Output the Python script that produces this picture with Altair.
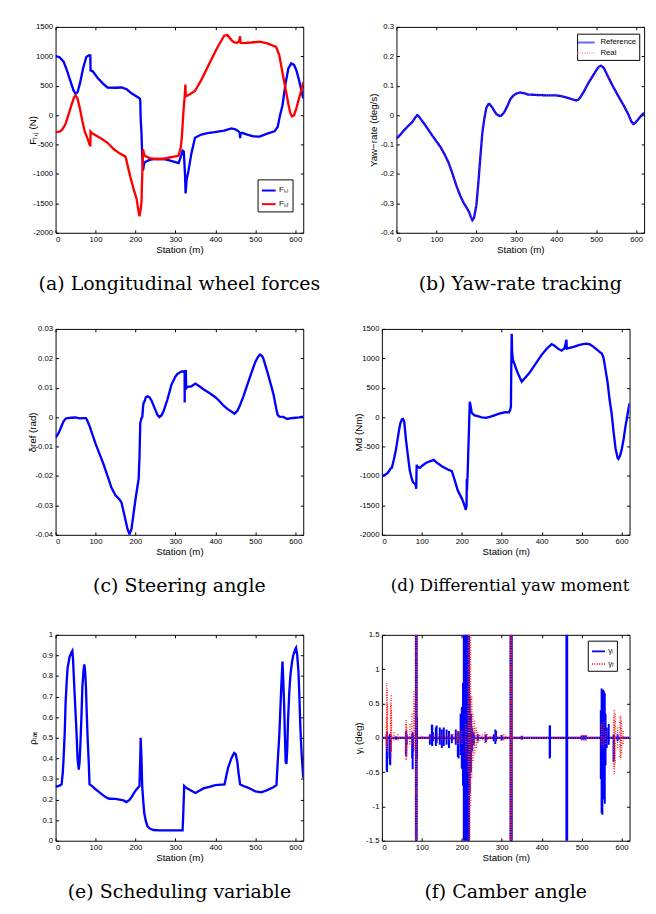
import altair as alt
import pandas as pd

# ---------------- (a) Longitudinal wheel forces ----------------
a_st_l = [0, 10, 20, 28, 38, 45, 50, 55, 61, 69, 77, 84, 87, 87.5, 93, 105, 118, 130, 150, 165, 178, 190, 200,
          207, 211, 212, 213, 215, 217, 219, 221, 223, 235, 250, 268, 285, 300, 308, 313, 318, 321, 324, 325.5,
          328, 333, 340, 349, 365, 380, 398, 422, 440, 450, 458, 461, 462, 463, 467, 480, 495, 511, 528, 548,
          556, 562, 568, 576, 583, 590, 597, 603, 609, 615, 620]
a_fll = [1005, 985, 910, 770, 560, 420, 360, 390, 540, 800, 990, 1020, 1015, 760, 745, 635, 540, 470, 465, 470,
         440, 370, 330, 300, 280, 250, -55, -300, -700, -940, -850, -800, -760, -745, -745, -770, -800, -815,
         -720, -605, -620, -1000, -1330, -1100, -935, -650, -385, -330, -305, -290, -265, -225, -240, -275,
         -300, -390, -310, -300, -330, -360, -365, -320, -275, -200, 0, 165, 550, 800, 880, 855, 760, 605, 430,
         285]
a_st_r = [0, 10, 16, 24, 32, 40, 46, 50, 55, 61, 67, 73, 81, 85, 87, 87.5, 90, 97, 115, 130, 146, 160, 175, 187,
          195, 203, 208, 210, 213, 215, 217, 219, 221, 223, 235, 250, 268, 285, 300, 308, 313, 316, 320, 323,
          325, 326, 335, 349, 365, 389, 405, 422, 430, 440, 446, 454, 459, 462, 463, 470, 490, 511, 530, 552,
          560, 568, 576, 583, 588, 592, 597, 603, 609, 615, 620]
a_flr = [-290, -280, -250, -165, 0, 180, 300, 335, 280, 110, -100, -275, -415, -500, -530, -280, -300, -330,
         -400, -470, -580, -650, -705, -1045, -1250, -1430, -1650, -1720, -1600, -1490, -1000, -580, -650,
         -690, -730, -745, -745, -720, -700, -690, -560, -385, 55, 300, 520, 320, 350, 410, 600, 935, 1150,
         1350, 1360, 1280, 1240, 1230, 1250, 1340, 1230, 1225, 1235, 1250, 1220, 1160, 1020, 720, 440, 180,
         28, -20, 0, 120, 275, 420, 560]
a_names = ["Fₗ,ₗ", "Fₗ,ᵣ"]

# ---------------- (b) Yaw-rate tracking ----------------
b_st = [0, 10, 20, 30, 40, 47, 52, 56, 60, 70, 80, 90, 100, 110, 120, 130, 140, 150, 160, 168, 175, 182, 186,
        190, 194, 200, 205, 210, 215, 220, 225, 230, 233, 240, 245, 250, 258, 262, 270, 278, 285, 292, 300,
        310, 320, 330, 345, 360, 380, 400, 410, 420, 430, 440, 450, 455, 460, 470, 480, 490, 500, 507, 512,
        517, 520, 530, 540, 550, 560, 570, 580, 588, 593, 598, 605, 612, 620]
b_ref = [-0.08, -0.066, -0.05, -0.036, -0.023, -0.008, 0.0, -0.004, -0.012, -0.03, -0.05, -0.07, -0.089,
         -0.108, -0.132, -0.16, -0.198, -0.24, -0.275, -0.298, -0.313, -0.33, -0.345, -0.357, -0.35, -0.307,
         -0.23, -0.143, -0.06, -0.012, 0.025, 0.037, 0.038, 0.026, 0.014, 0.004, -0.003, -0.002, 0.01, 0.032,
         0.054, 0.066, 0.073, 0.077, 0.074, 0.07, 0.069, 0.068, 0.067, 0.067, 0.065, 0.062, 0.058, 0.054,
         0.05, 0.052, 0.06, 0.082, 0.108, 0.13, 0.152, 0.165, 0.168, 0.163, 0.158, 0.13, 0.103, 0.078, 0.054,
         0.03, 0.004, -0.022, -0.03, -0.026, -0.015, -0.003, 0.008]
b_real = [-0.08, -0.066, -0.05, -0.036, -0.023, -0.008, 0.0, -0.004, -0.012, -0.03, -0.05, -0.07, -0.089,
          -0.108, -0.132, -0.16, -0.198, -0.24, -0.275, -0.298, -0.313, -0.33, -0.345, -0.357, -0.35, -0.307,
          -0.23, -0.143, -0.06, -0.012, 0.025, 0.037, 0.038, 0.026, 0.014, 0.004, -0.003, -0.002, 0.01, 0.032,
          0.054, 0.066, 0.073, 0.077, 0.074, 0.07, 0.069, 0.068, 0.067, 0.067, 0.065, 0.062, 0.058, 0.054,
          0.05, 0.052, 0.06, 0.082, 0.108, 0.13, 0.152, 0.165, 0.168, 0.163, 0.158, 0.13, 0.103, 0.078, 0.054,
          0.03, 0.004, -0.022, -0.03, -0.026, -0.015, -0.003, 0.008]
b_names = ["Reference", "Real"]

# ---------------- (c) Steering angle ----------------
c_st = [0, 5, 10, 15, 20, 25, 30, 40, 50, 60, 70, 76, 80, 85, 90, 100, 110, 120, 130, 140, 150, 160, 165, 170,
        175, 180, 185, 190, 195, 200, 205, 208, 209, 210, 211, 212, 215, 217, 219, 220, 223, 226, 230, 235,
        240, 250, 255, 260, 265, 270, 280, 290, 300, 305, 315, 322, 323, 323.2, 323.5, 326, 327, 330, 340,
        350, 360, 370, 385, 400, 410, 420, 430, 440, 448, 455, 460, 470, 480, 490, 500, 507, 512, 517, 520,
        530, 540, 546, 550, 553, 556, 560, 570, 575, 580, 590, 600, 610, 620]
c_delta = [-0.0069, -0.006, -0.0047, -0.003, -0.0014, -0.0005, -0.0003, -0.0002, -0.0001, -0.0004, -0.0003,
           -0.0003, -0.0014, -0.003, -0.005, -0.009, -0.0125, -0.016, -0.02, -0.024, -0.0266, -0.028, -0.029,
           -0.032, -0.035, -0.038, -0.0398, -0.038, -0.033, -0.028, -0.0235, -0.021, -0.017, -0.014, -0.008,
           -0.002, -0.0003, 0.0, 0.0035, 0.0046, 0.0055, 0.0068, 0.0071, 0.0068, 0.0057, 0.0024, 0.0008, 0.0,
           0.0006, 0.0019, 0.006, 0.011, 0.0138, 0.0147, 0.0155, 0.0156, 0.0156, 0.005, 0.0156, 0.0156,
           0.0098, 0.0103, 0.0105, 0.0114, 0.0105, 0.0095, 0.0082, 0.0068, 0.0055, 0.004, 0.0028, 0.0019,
           0.0012, 0.0022, 0.0035, 0.007, 0.011, 0.015, 0.0188, 0.0206, 0.0213, 0.0208, 0.02, 0.0155, 0.0106,
           0.0075, 0.0046, 0.0025, 0.0008, 0.0002, 0.0001, -0.0003, -0.0006, -0.0003, -0.0002, -0.0001, 0.0002]

# ---------------- (d) Differential yaw moment ----------------
d_st = [0, 10, 14, 18, 22, 25, 30, 35, 42, 46, 50, 53, 56, 60, 65, 70, 75, 78, 82, 85, 86, 87, 88, 95, 100, 110,
        120, 130, 135, 150, 165, 175, 180, 190, 200, 205, 210, 212, 212.5, 213, 215, 216, 218, 220, 222, 225,
        232, 240, 250, 260, 270, 280, 290, 300, 310, 318, 321, 323, 324, 325, 326, 328, 332, 335, 342, 350,
        360, 370, 385, 400, 412, 425, 432, 440, 450, 457, 460, 462, 463, 465, 480, 495, 510, 520, 530, 545,
        550, 552, 555, 560, 565, 570, 575, 580, 585, 590, 592, 596, 600, 605, 610, 615, 620]
d_md = [-1010, -970, -950, -915, -870, -860, -720, -560, -258, -110, -38, -30, -80, -368, -650, -917, -1050,
        -1108, -1130, -1163, -1218, -807, -840, -862, -830, -780, -750, -725, -760, -834, -890, -917, -1020,
        -1246, -1380, -1466, -1575, -1500, -1054, -1246, -900, -642, -200, 263, 200, 71, 30, 16, -5, -11, 5,
        27, 50, 71, 85, 82, 120, 181, 900, 1416, 1100, 977, 900, 840, 720, 604, 680, 758, 910, 1059, 1160,
        1240, 1215, 1169, 1130, 1170, 1251, 1317, 1165, 1169, 1196, 1230, 1251, 1240, 1196, 1110, 1087, 1060,
        1004, 800, 593, 300, 71, -250, -532, -690, -708, -660, -560, -380, -148, 50, 236]

# ---------------- (e) Scheduling variable ----------------
e_st = [0, 10, 15, 18, 20, 23, 25, 28, 30, 35, 40, 42, 44, 45, 48, 50, 53, 55, 58, 60, 62, 65, 67, 70, 72, 74,
        76, 78, 80, 83, 85, 90, 100, 110, 120, 130, 135, 150, 160, 170, 177, 185, 190, 200, 210, 212, 213,
        215, 217, 220, 222, 226, 230, 237, 245, 260, 300, 318, 320, 322, 326, 330, 340, 350, 360, 370, 385,
        400, 423, 428, 432, 440, 447, 451, 455, 458, 462, 470, 480, 490, 500, 515, 530, 545, 553, 556, 560,
        563, 565, 568, 570, 572, 574, 576, 578, 580, 582, 585, 588, 592, 595, 600, 602, 605, 608, 610, 613,
        616, 620]
e_rho = [0.262, 0.268, 0.274, 0.33, 0.40, 0.53, 0.667, 0.78, 0.838, 0.893, 0.915, 0.922, 0.87, 0.823, 0.7,
         0.619, 0.5, 0.40, 0.345, 0.38, 0.462, 0.62, 0.745, 0.83, 0.857, 0.82, 0.745, 0.62, 0.51, 0.38, 0.274,
         0.268, 0.25, 0.235, 0.219, 0.207, 0.204, 0.203, 0.20, 0.196, 0.188, 0.198, 0.212, 0.243, 0.266, 0.40,
         0.50, 0.40, 0.259, 0.18, 0.133, 0.095, 0.07, 0.058, 0.052, 0.05, 0.05, 0.05, 0.15, 0.266, 0.258,
         0.254, 0.243, 0.232, 0.243, 0.254, 0.262, 0.27, 0.274, 0.32, 0.355, 0.40, 0.426, 0.42, 0.383, 0.33,
         0.274, 0.266, 0.259, 0.25, 0.24, 0.235, 0.246, 0.26, 0.27, 0.38, 0.51, 0.65, 0.745, 0.87, 0.78, 0.667,
         0.52, 0.384, 0.373, 0.45, 0.588, 0.72, 0.807, 0.87, 0.90, 0.93, 0.937, 0.9, 0.823, 0.72, 0.54, 0.42,
         0.306]

# ---------------- (f) Camber angle (oscillation envelopes) ----------------
f_names = ["γₗ", "γᵣ"]
f_base_st = [0, 620]
f_base_val = [0, 0]
fl_st = [12, 13, 14, 20, 21, 22, 35, 60, 61, 62, 76, 77, 78, 85, 86, 87, 88, 120, 125, 126, 128, 135, 137, 145,
         150, 155, 162, 168, 175, 185, 190, 192, 197, 200, 203, 205, 207, 209, 211, 213, 215, 217, 218, 220,
         223, 226, 230, 240, 260, 280, 284, 286, 300, 322, 323, 324, 325, 350, 420, 421, 462, 463, 464, 500,
         505, 510, 548, 550, 552, 554, 556, 558, 560, 563, 568, 580, 581, 590]
fl_hi = [0.05, 0.08, 0.03, 0.05, 0.06, 0.03, 0.02, 0.09, 0.1, 0.05, 0.06, 0.08, 0.04, 1.5, 1.5, 1.5, 0.3, 0.05,
         0.19, 0.19, 0.08, 0.15, 0.18, 0.15, 0.12, 0.15, 0.12, 0.1, 0.05, 0.12, 0.1, 0.08, 0.35, 0.45, 0.8,
         1.5, 1.5, 1.5, 1.5, 1.5, 1.5, 1.5, 1.5, 0.6, 0.35, 0.15, 0.08, 0.05, 0.05, 0.05, 0.12, 0.1, 0.04, 1.5,
         1.5, 1.5, 1.5, 0.03, 0.18, 0.18, 1.5, 1.5, 1.5, 0.03, 0.03, 0.03, 0.4, 0.72, 0.7, 0.7, 0.68, 0.65,
         0.35, 0.15, 0.2, 0.05, 0.04, 0.05]
fl_lo = [-0.48, -0.5, -0.3, -0.38, -0.4, -0.2, -0.03, -0.25, -0.27, -0.1, -0.3, -0.46, -0.2, -1.5, -1.5, -1.5,
         -0.3, -0.1, -0.1, -0.12, -0.05, -0.12, -0.08, -0.1, -0.15, -0.12, -0.1, -0.15, -0.08, -0.1, -0.28,
         -0.3, -0.25, -0.45, -0.7, -1.5, -1.5, -1.5, -1.5, -1.5, -1.5, -1.5, -1.5, -0.8, -0.5, -0.2, -0.1,
         -0.05, -0.06, -0.05, -0.09, -0.05, -0.04, -1.5, -1.5, -1.5, -1.5, -0.03, -0.3, -0.28, -1.5, -1.5,
         -1.5, -0.03, -0.03, -0.03, -0.6, -1.1, -1.12, -0.8, -0.9, -0.96, -0.4, -0.15, -0.1, -0.35, -0.3,
         -0.05]
fr_st = [11, 12, 13, 14, 22, 23, 24, 30, 40, 60, 61, 62, 70, 75, 80, 81, 85, 86, 87, 100, 120, 130, 140, 150,
         160, 170, 180, 188, 190, 193, 200, 210, 216, 218, 220, 222, 225, 228, 232, 236, 240, 245, 252, 258,
         264, 270, 285, 298, 305, 310, 322, 323, 324, 325, 326, 350, 500, 504, 508, 512, 550, 555, 560, 580,
         582, 584, 590, 596, 598, 600, 604]
fr_hi = [0.3, 0.8, 0.7, 0.5, 0.5, 0.62, 0.4, 0.08, 0.05, 0.2, 0.26, 0.15, 0.2, 0.35, 0.68, 0.5, 1.5, 1.5, 1.5,
         0.03, 0.05, 0.05, 0.05, 0.05, 0.05, 0.05, 0.05, 0.08, 0.1, 0.1, 0.1, 0.2, 1.5, 1.5, 1.5, 1.5, 0.6,
         0.35, 0.25, 0.15, 0.08, 0.04, 0.05, 0.08, 0.05, 0.02, 0.05, 0.04, 0.05, 0.03, 1.5, 1.5, 1.5, 1.5,
         0.4, 0.02, 0.04, 0.04, 0.04, 0.04, 0.2, 0.23, 0.1, 0.3, 0.4, 0.35, 0.15, 0.3, 0.32, 0.25, 0.1]
fr_lo = [-0.1, -0.15, -0.2, -0.1, -0.2, -0.3, -0.1, -0.05, -0.05, -0.3, -0.32, -0.2, -0.1, -0.1, -0.15, -0.2,
         -1.5, -1.5, -1.5, -0.03, -0.05, -0.05, -0.05, -0.05, -0.05, -0.05, -0.05, -0.06, -0.1, -0.08, -0.1,
         -0.3, -0.5, -1.5, -1.5, -1.0, -0.6, -0.35, -0.25, -0.15, -0.08, -0.04, -0.05, -0.08, -0.05, -0.02,
         -0.04, -0.04, -0.05, -0.03, -1.5, -1.5, -1.5, -1.5, -0.5, -0.02, -0.04, -0.04, -0.04, -0.04, -0.1,
         -0.15, -0.1, -0.45, -0.53, -0.4, -0.15, -0.3, -0.32, -0.25, -0.1]

# ---------------- styling helpers ----------------
W, H = 255, 212
BLUE, RED = "#0000ff", "#ff0000"
SANS = "Liberation Sans"
SERIF = "DejaVu Serif"
X_DOMAIN = [0, 620]
X_TICKS = [0, 100, 200, 300, 400, 500, 600]
LABEL_EXPR = "replace(format(datum.value, '~g'), '−', '-')"


def xs():
    return alt.Scale(domain=X_DOMAIN, nice=False, zero=False)


def ys(domain):
    return alt.Scale(domain=domain, nice=False, zero=False)


def x_enc(field="station"):
    return alt.X(f"{field}:Q", scale=xs(),
                 axis=alt.Axis(values=X_TICKS, title="Station (m)", labelExpr=LABEL_EXPR))


def y_enc(field, title, domain, ticks):
    return alt.Y(f"{field}:Q", scale=ys(domain),
                 axis=alt.Axis(values=ticks, title=title, labelExpr=LABEL_EXPR))


def caption(text, size=19.5, anchor="middle"):
    return alt.TitleParams(text=text, orient="bottom", anchor=anchor, frame="group", font=SERIF,
                           fontSize=size, fontWeight="normal", color="black", offset=22)


def legend(x, y, size=200, symbol="stroke", label_offset=2):
    return alt.Legend(orient="none", legendX=x, legendY=y, symbolType=symbol, symbolSize=size,
                      symbolStrokeWidth=2, labelFont=SANS, labelFontSize=8, labelColor="black",
                      strokeColor="black", fillColor="white", padding=3, rowPadding=1,
                      labelOffset=label_offset)


def long_df(st_lists, val_lists, names):
    rows = []
    for st, vals, nm in zip(st_lists, val_lists, names):
        for i, (s, v) in enumerate(zip(st, vals)):
            rows.append({"station": s, "value": v, "series": nm, "idx": i})
    return pd.DataFrame(rows)


def boxed(inner, ydomain, yticks, title):
    """Add mirrored inward ticks on the top and right edges (MATLAB-style box)."""
    mirror = alt.Chart(pd.DataFrame({"mx": X_DOMAIN, "my": ydomain})).mark_point(opacity=0).encode(
        x=alt.X("mx:Q", scale=xs(), axis=alt.Axis(orient="top", values=X_TICKS, labels=False, title="")),
        y=alt.Y("my:Q", scale=ys(ydomain),
                axis=alt.Axis(orient="right", values=yticks, labels=False, title="",
                              minExtent=0, maxExtent=0)),
    )
    return alt.layer(inner, mirror).resolve_scale(x="independent", y="independent").properties(
        width=W, height=H, title=title)


# (a)
A_TICKS = list(range(-2000, 1501, 500))
df_a = long_df([a_st_l, a_st_r], [a_fll, a_flr], a_names)
pa_in = alt.Chart(df_a).mark_line(strokeWidth=2.4, clip=True).encode(
    x=x_enc(),
    y=y_enc("value", "Fₗ,ⱼ (N)", [-2000, 1500], A_TICKS),
    color=alt.Color("series:N", title=None,
                    scale=alt.Scale(domain=a_names, range=[BLUE, RED]),
                    legend=legend(208, 157, 200)),
    detail="series:N",
    order="idx:Q",
)
pa = boxed(alt.layer(pa_in), [-2000, 1500], A_TICKS, caption("(a) Longitudinal wheel forces"))

# (b)
B_TICKS = [-0.4, -0.3, -0.2, -0.1, 0, 0.1, 0.2, 0.3]
df_b = long_df([b_st, b_st], [b_ref, b_real], b_names)
b_color = alt.Color("series:N", title=None, scale=alt.Scale(domain=b_names, range=[BLUE, "#ff6060"]),
                    legend=legend(186, 7, 90, "M-1.9,0H1.9", 9))
b_dash = alt.StrokeDash("series:N", title=None,
                        scale=alt.Scale(domain=b_names, range=[[1, 0], [1, 1.5]]))
b_y = y_enc("value", "Yaw−rate (deg/s)", [-0.4, 0.3], B_TICKS)
pb_ref = alt.Chart(df_b[df_b.series == "Reference"]).mark_line(strokeWidth=2.4, clip=True).encode(
    x=x_enc(), y=b_y, color=b_color, strokeDash=b_dash, order="idx:Q")
pb_real = alt.Chart(df_b[df_b.series == "Real"]).mark_line(strokeWidth=1, opacity=0.6, clip=True).encode(
    x=x_enc(), y=b_y, color=b_color, strokeDash=b_dash, order="idx:Q")
pb = boxed(alt.layer(pb_ref, pb_real), [-0.4, 0.3], B_TICKS, caption("(b) Yaw-rate tracking"))

# (c)
C_TICKS = [-0.04, -0.03, -0.02, -0.01, 0, 0.01, 0.02, 0.03]
df_c = pd.DataFrame({"station": c_st, "value": c_delta, "idx": list(range(len(c_st)))})
pc_in = alt.Chart(df_c).mark_line(strokeWidth=2.4, color=BLUE, clip=True).encode(
    x=x_enc(), y=y_enc("value", "δref (rad)", [-0.04, 0.03], C_TICKS), order="idx:Q")
pc = boxed(alt.layer(pc_in), [-0.04, 0.03], C_TICKS, caption("(c) Steering angle"))

# (d)
df_d = pd.DataFrame({"station": d_st, "value": d_md, "idx": list(range(len(d_st)))})
pd_in = alt.Chart(df_d).mark_line(strokeWidth=2.4, color=BLUE, clip=True).encode(
    x=x_enc(), y=y_enc("value", "Md (Nm)", [-2000, 1500], A_TICKS), order="idx:Q")
pd_ = boxed(alt.layer(pd_in), [-2000, 1500], A_TICKS,
            caption("(d) Differential yaw moment", size=17.2, anchor="end"))

# (e)
E_TICKS = [0, 0.1, 0.2, 0.3, 0.4, 0.5, 0.6, 0.7, 0.8, 0.9, 1]
df_e = pd.DataFrame({"station": e_st, "value": e_rho, "idx": list(range(len(e_st)))})
pe_in = alt.Chart(df_e).mark_line(strokeWidth=2.4, color=BLUE, clip=True).encode(
    x=x_enc(), y=y_enc("value", "ρₗₐₜ", [0, 1], E_TICKS), order="idx:Q")
pe = boxed(alt.layer(pe_in), [0, 1], E_TICKS, caption("(e) Scheduling variable"))

# (f)
F_TICKS = [-1.5, -1, -0.5, 0, 0.5, 1, 1.5]
df_fb = long_df([f_base_st, f_base_st], [f_base_val, f_base_val], f_names)
df_fb["hi"] = df_fb["value"]
df_fb["lo"] = df_fb["value"]
df_fr = pd.concat([
    pd.DataFrame({"station": fl_st, "hi": fl_hi, "lo": fl_lo, "series": f_names[0]}),
    pd.DataFrame({"station": fr_st, "hi": fr_hi, "lo": fr_lo, "series": f_names[1]}),
])
f_color = alt.Color("series:N", title=None, scale=alt.Scale(domain=f_names, range=[BLUE, "#ff2020"]),
                    legend=legend(212, 6, 180))
f_dash = alt.StrokeDash("series:N", title=None,
                        scale=alt.Scale(domain=f_names, range=[[1, 0], [1, 1.5]]))
f_y = y_enc("hi", "γᵢ (deg)", [-1.5, 1.5], F_TICKS)
pf_base = alt.Chart(df_fb).mark_line(strokeWidth=2.4, clip=True).encode(
    x=x_enc(), y=f_y, color=f_color, strokeDash=f_dash, detail="series:N")
pf_l = alt.Chart(df_fr[df_fr.series == f_names[0]]).mark_rule(strokeWidth=2, clip=True).encode(
    x=x_enc(), y=f_y, y2="lo:Q", color=f_color, strokeDash=f_dash)
pf_r = alt.Chart(df_fr[df_fr.series == f_names[1]]).mark_rule(strokeWidth=1.5, clip=True).encode(
    x=x_enc(), y=f_y, y2="lo:Q", color=f_color, strokeDash=f_dash)
pf = boxed(alt.layer(pf_base, pf_l, pf_r), [-1.5, 1.5], F_TICKS, caption("(f) Camber angle"))

HS = 47
row1 = alt.hconcat(pa, pb, spacing=HS).resolve_scale(color="independent", strokeDash="independent")
row2 = alt.hconcat(pc, pd_, spacing=HS).resolve_scale(color="independent", strokeDash="independent")
row3 = alt.hconcat(pe, pf, spacing=HS).resolve_scale(color="independent", strokeDash="independent")

top2 = alt.vconcat(row1, row2, spacing=31).resolve_scale(color="independent", strokeDash="independent")
chart = alt.vconcat(top2, row3, spacing=35).resolve_scale(
    color="independent", strokeDash="independent"
).properties(
    padding={"left": 19, "top": 1, "right": 0, "bottom": 0}, background="white"
).configure_view(
    stroke="black", strokeWidth=1
).configure_axis(
    labelFont=SANS, labelFontSize=8, labelColor="black", titleFont=SANS, titleFontSize=10,
    titleFontWeight="normal", titleColor="black", tickColor="black", tickSize=3, tickWidth=1,
    domain=False, grid=False, offset=-3, labelPadding=3, labelOverlap=False
).configure_axisLeft(
    minExtent=22, maxExtent=22, titlePadding=0
).configure_axisBottom(
    titlePadding=1
).configure_legend(
    labelFont=SANS
)

chart.save("out.html", embed_options={"renderer": "svg", "actions": False})
